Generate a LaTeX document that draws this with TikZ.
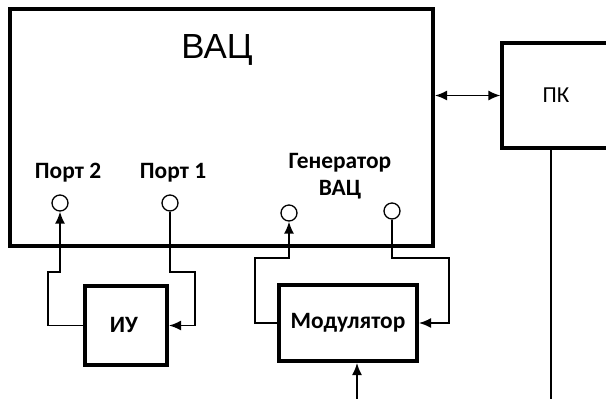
\documentclass[tikz,border=0pt]{standalone}
\usepackage{fontspec}
\setmainfont{Carlito}
\newfontfamily\arialf{Liberation Sans}
\usetikzlibrary{arrows.meta,calc}
\begin{document}
\begin{tikzpicture}[x=1bp,y=-1bp,
  box/.style={draw, line width=4bp, inner sep=0pt},
  port/.style={draw, circle, line width=1.3bp, minimum size=16bp, inner sep=0pt, fill=white},
  wire/.style={line width=1.6bp},
  arr/.style={wire, -{Latex[length=12bp,width=10bp]}},
  dblarr/.style={wire, {Latex[length=12bp,width=10bp]}-{Latex[length=12bp,width=10bp]}},
  lbl/.style={font=\fontsize{23.5}{27}\selectfont\bfseries, inner sep=0pt, align=center}]
\useasboundingbox (0,0) rectangle (606,398);
\clip (0,0) rectangle (606,398);
\fill[white] (0,0) rectangle (606,398);

% boxes
\node[box, minimum width=423bp, minimum height=237bp] (vac) at (221.5,127.5) {};
\node[box, line width=3.2bp, minimum width=118bp, minimum height=105bp] (pk) at (561,95.5) {};
\node[box, minimum width=82bp, minimum height=79bp] (iu) at (126,325.5) {};
\node[box, minimum width=138bp, minimum height=76bp] (mod) at (348,323) {};

% texts
\node[font=\arialf\fontsize{35}{38}\selectfont, inner sep=0pt] (title) at (217,50) {ВАЦ};
\node[font=\fontsize{23}{27}\selectfont, inner sep=0pt] (pkt) at (556,95) {ПК};
\node[lbl] (l2) at (68,173) {Порт 2};
\node[lbl] (l1) at (173,173) {Порт 1};
\node[lbl] (lg) at (340,176) {Генератор\\ВАЦ};
\node[lbl] (iut) at (124,325) {ИУ};
\node[lbl] (modt) at (348,323) {Модулятор};

% ports
\node[port] (p2) at (60,203) {};
\node[port] (p1) at (170,203) {};
\node[port] (g1) at (289,213) {};
\node[port] (g2) at (392,211) {};

% connectors
\draw[dblarr] (vac.east |- pk.west) -- (pk.west);
\draw[arr] (iu.west) -| (48,272) -| (p2.south);
\draw[arr] (p1.south) |- (195,272) |- (iu.east);
\draw[arr] (mod.west) -| (255,258) -| (g1.south);
\draw[arr] (g2.south) |- (449,258) |- (mod.east);
\coordinate (modin) at (357,400);
\draw[arr] (modin) -- (modin |- mod.south);
\coordinate (pkout) at (551,400);
\draw[wire] (pkout |- pk.south) -- (pkout);
\end{tikzpicture}
\end{document}
